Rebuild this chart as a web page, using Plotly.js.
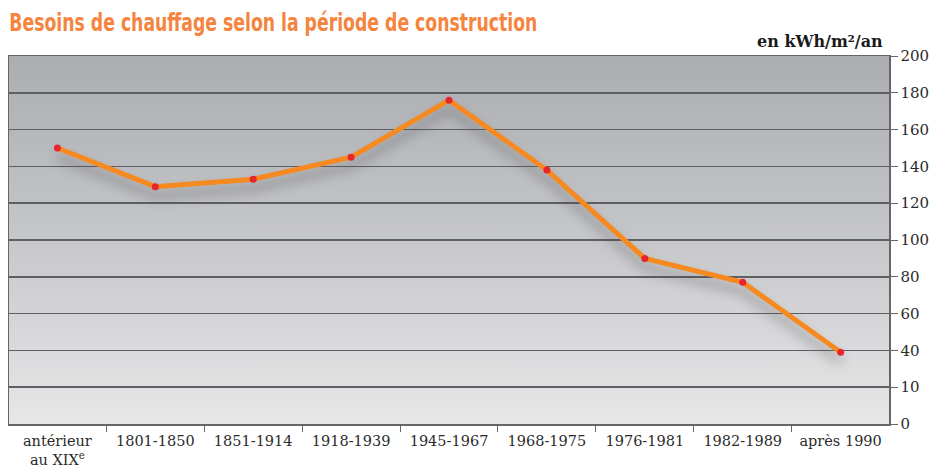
<!DOCTYPE html>
<html>
<head>
<meta charset="utf-8">
<script src="https://cdn.plot.ly/plotly-3.0.1.min.js"></script>
<style>
  html, body { margin: 0; padding: 0; background: #ffffff; }
  #chart { width: 935px; height: 468px; }
  .scatterlayer .trace path.js-line { filter: drop-shadow(0px 9px 6px rgba(60,60,65,0.45)); }
</style>
</head>
<body>
<div id="chart"></div>
<script>
// Data
var categories = ["antérieur<br>au XIX<sup>e</sup>", "1801-1850", "1851-1914", "1918-1939", "1945-1967", "1968-1975", "1976-1981", "1982-1989", "après 1990"];
var values = [150, 129, 133, 145, 176, 138, 90, 77, 39];
var yTickVals = [0, 20, 40, 60, 80, 100, 120, 140, 160, 180, 200];
var yTickText = ["0", "10", "40", "60", "80", "100", "120", "140", "160", "180", "200"];

var bgSvg = '<svg xmlns="http://www.w3.org/2000/svg" width="100" height="100" preserveAspectRatio="none">' +
  '<defs><linearGradient id="g" x1="0" y1="0" x2="0" y2="1">' +
  '<stop offset="0" stop-color="#acadb1"/>' +
  '<stop offset="0.45" stop-color="#c3c4c7"/>' +
  '<stop offset="1" stop-color="#e7e7e8"/>' +
  '</linearGradient></defs><rect width="100" height="100" fill="url(#g)"/></svg>';
var bgUri = 'data:image/svg+xml;base64,' + btoa(bgSvg);

var trace = {
  x: categories,
  y: values,
  type: 'scatter',
  mode: 'lines+markers',
  line: { color: '#f6891f', width: 5 },
  marker: { color: '#e6262c', size: 7 },
  hoverinfo: 'x+y'
};

var tickFont = { family: '"DejaVu Serif", "Liberation Serif", serif', size: 14.5, color: '#2b2b2b' };

var layout = {
  width: 935,
  height: 468,
  margin: { l: 9, r: 46, t: 56, b: 44 },
  paper_bgcolor: '#ffffff',
  plot_bgcolor: 'rgba(0,0,0,0)',
  showlegend: false,
  title: {
    text: '<b>Besoins de chauffage selon la période de construction</b>',
    font: { family: '"Liberation Sans Narrow", "DejaVu Sans Condensed", "Roboto Condensed", sans-serif', size: 24, color: '#f5843e' },
    xref: 'container', yref: 'container',
    x: 0.01, xanchor: 'left',
    y: 0.952, yanchor: 'middle'
  },
  images: [{
    source: bgUri,
    xref: 'paper', yref: 'paper',
    x: 0, y: 1, sizex: 1, sizey: 1,
    xanchor: 'left', yanchor: 'top',
    sizing: 'stretch',
    layer: 'below'
  }],
  xaxis: {
    type: 'category',
    tickson: 'boundaries',
    ticks: 'outside',
    ticklen: 6,
    tickcolor: '#666666',
    tickwidth: 1,
    showline: true,
    linecolor: '#666666',
    linewidth: 1.5,
    mirror: true,
    showgrid: false,
    tickfont: tickFont,
    ticklabelstandoff: 3,
    fixedrange: true
  },
  yaxis: {
    side: 'right',
    range: [0, 200],
    tickvals: yTickVals,
    ticktext: yTickText,
    ticks: 'outside',
    ticklen: 7,
    tickcolor: '#666666',
    showline: true,
    linecolor: '#666666',
    linewidth: 1.5,
    mirror: true,
    showgrid: true,
    gridcolor: '#5e5f62',
    gridwidth: 1.5,
    zeroline: false,
    tickfont: { family: '"DejaVu Serif", "Liberation Serif", serif', size: 15, color: '#2b2b2b' },
    fixedrange: true
  },
  annotations: [{
    text: '<b>en kWh/m²/an</b>',
    xref: 'paper', yref: 'paper',
    x: 0.995, xanchor: 'right',
    y: 1.04, yanchor: 'middle',
    showarrow: false,
    font: { family: '"DejaVu Serif", "Liberation Serif", serif', size: 16, color: '#1a1a1a' }
  }]
};

Plotly.newPlot('chart', [trace], layout, { displayModeBar: false, staticPlot: true }).then(function (gd) {
  var t = gd.querySelector('.gtitle');
  if (t) {
    t.setAttribute('textLength', '528');
    t.setAttribute('lengthAdjust', 'spacingAndGlyphs');
  }
});
</script>
</body>
</html>
